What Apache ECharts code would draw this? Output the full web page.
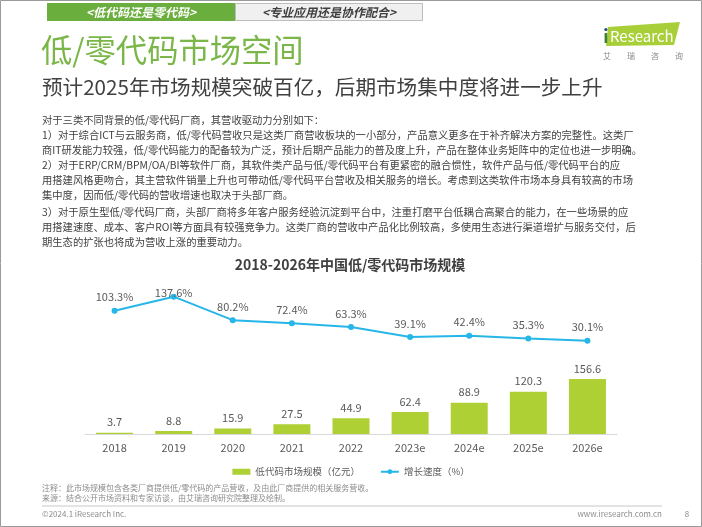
<!DOCTYPE html>
<html><head><meta charset="utf-8">
<script src="https://cdn.jsdelivr.net/npm/echarts@6/dist/echarts.min.js"></script>
<style>html,body{margin:0;padding:0;background:#fff}#c{width:702px;height:527px}</style>
</head><body><div id="c"></div>
<script>
const categories = ['2018','2019','2020','2021','2022','2023e','2024e','2025e','2026e'];
const marketSize = [3.7, 8.8, 15.9, 27.5, 44.9, 62.4, 88.9, 120.3, 156.6];
const growthRate = [103.3, 137.6, 80.2, 72.4, 63.3, 39.1, 42.4, 35.3, 30.1];
const seriesNames = ['低代码市场规模（亿元）', '增长速度（%）'];
const chartTitle = '2018-2026年中国低/零代码市场规模';
const tabs = ['<低代码还是零代码>', '<专业应用还是协作配合>'];
const pageTitle = '低/零代码市场空间';
const pageSubtitle = '预计2025年市场规模突破百亿，后期市场集中度将进一步上升';
const bodyLines = [
  '对于三类不同背景的低/零代码厂商，其营收驱动力分别如下：',
  '1）对于综合ICT与云服务商，低/零代码营收只是这类厂商营收板块的一小部分，产品意义更多在于补齐解决方案的完整性。这类厂',
  '商IT研发能力较强，低/零代码能力的配备较为广泛，预计后期产品能力的普及度上升，产品在整体业务矩阵中的定位也进一步明确。',
  '2）对于ERP/CRM/BPM/OA/BI等软件厂商，其软件类产品与低/零代码平台有更紧密的融合惯性，软件产品与低/零代码平台的应',
  '用搭建风格更吻合，其主营软件销量上升也可带动低/零代码平台营收及相关服务的增长。考虑到这类软件市场本身具有较高的市场',
  '集中度，因而低/零代码的营收增速也取决于头部厂商。',
  '3）对于原生型低/零代码厂商，头部厂商将多年客户服务经验沉淀到平台中，注重打磨平台低耦合高聚合的能力，在一些场景的应',
  '用搭建速度、成本、客户ROI等方面具有较强竞争力。这类厂商的营收中产品化比例较高，多使用生态进行渠道增扩与服务交付，后',
  '期生态的扩张也将成为营收上涨的重要动力。'
];
const footNotes = [
  '注释：此市场规模包含各类厂商提供低/零代码的产品营收，及由此厂商提供的相关服务营收。',
  '来源：结合公开市场资料和专家访谈，由艾瑞咨询研究院整理及绘制。'
];
const logoChars = ['艾','瑞','咨','询'];
const footerLeft = '©2024.1 iResearch Inc.';
const footerRight = 'www.iresearch.com.cn';
const pageNum = '8';

const FONT = '"Noto Sans CJK SC", "Noto Sans", sans-serif';
const bodyY = [120, 135.5, 150.5, 165.5, 180, 195, 212, 227, 242];

const graphics = [];
graphics.push({type:'rect', shape:{x:0.5,y:0.5,width:701,height:526}, style:{fill:null, stroke:'#9a9a9a', lineWidth:1}, silent:true});
graphics.push({type:'rect', shape:{x:47,y:3,width:188,height:18}, style:{fill:'#6aae3e'}});
graphics.push({type:'rect', shape:{x:235.5,y:3.5,width:187,height:17}, style:{fill:'#f0f0f0', stroke:'#bdbdbd', lineWidth:1}});
graphics.push({type:'text', x:141, y:12, style:{text:tabs[0], fill:'#fff', font:'italic bold 12px '+FONT, textAlign:'center', textVerticalAlign:'middle'}});
graphics.push({type:'text', x:329, y:12, style:{text:tabs[1], fill:'#404040', font:'italic bold 12px '+FONT, textAlign:'center', textVerticalAlign:'middle'}});
graphics.push({type:'text', x:41, y:50, style:{text:pageTitle, fill:'#7ab648', font:'31.3px '+FONT, textVerticalAlign:'middle'}});
graphics.push({type:'text', x:42, y:87, style:{text:pageSubtitle, fill:'#404040', font:'20.6px '+FONT, textVerticalAlign:'middle'}});
bodyLines.forEach((t,i)=>graphics.push({type:'text', x:42, y:bodyY[i], style:{text:t, fill:'#404040', font:'10.3px '+FONT, textVerticalAlign:'middle'}}));
graphics.push({type:'text', x:350, y:265, style:{text:chartTitle, fill:'#404040', font:'bold 14px '+FONT, textAlign:'center', textVerticalAlign:'middle'}});
// logo
graphics.push({type:'polygon', shape:{points:[[608,27],[680,22],[674,45],[606,46]]}, style:{fill:'#a8cf38'}});
graphics.push({type:'rect', shape:{x:604.6,y:33,width:2.6,height:10}, style:{fill:'#3f7f3a'}});
graphics.push({type:'circle', shape:{cx:605.9,cy:29.5,r:1.6}, style:{fill:'#1f4e79'}});
graphics.push({type:'text', x:610, y:36, style:{text:'Research', fill:'#fff', font:'15px '+FONT, textVerticalAlign:'middle'}});
logoChars.forEach((c,i)=>graphics.push({type:'text', x:607+i*24, y:56, style:{text:c, fill:'#8a8a8a', font:'8px '+FONT, textAlign:'center', textVerticalAlign:'middle'}}));
// footer
footNotes.forEach((t,i)=>graphics.push({type:'text', x:42, y:488+i*9.5, style:{text:t, fill:'#8c8c8c', font:'8px '+FONT, textVerticalAlign:'middle'}}));
graphics.push({type:'line', shape:{x1:42,y1:506,x2:662,y2:506}, style:{stroke:'#c8c8c8', lineWidth:1}});
graphics.push({type:'text', x:42, y:514, style:{text:footerLeft, fill:'#8c8c8c', font:'8px '+FONT, textVerticalAlign:'middle'}});
graphics.push({type:'text', x:662, y:514, style:{text:footerRight, fill:'#8c8c8c', font:'8px '+FONT, textAlign:'right', textVerticalAlign:'middle'}});
graphics.push({type:'text', x:687, y:514, style:{text:pageNum, fill:'#8c8c8c', font:'8px '+FONT, textAlign:'center', textVerticalAlign:'middle'}});

const chart = echarts.init(document.getElementById('c'), null, {renderer:'canvas'});
chart.setOption({
  animation:false,
  textStyle:{fontFamily:FONT},
  graphic:graphics,
  legend:{
    top:462, left:'center', itemGap:20, itemWidth:18, itemHeight:6,
    textStyle:{color:'#595959', fontSize:9.5, fontFamily:FONT},
    data:[{name:seriesNames[0], icon:'rect'}, {name:seriesNames[1]}]
  },
  grid:[
    {left:85, right:85, top:291.6, height:61.4},
    {left:85, right:85, top:377.8, height:56.2}
  ],
  xAxis:[
    {type:'category', gridIndex:0, data:categories, show:false},
    {type:'category', gridIndex:1, data:categories,
     axisLine:{lineStyle:{color:'#d9d9d9'}}, axisTick:{show:false},
     axisLabel:{color:'#595959', fontSize:11, margin:8, fontFamily:FONT}}
  ],
  yAxis:[
    {type:'value', gridIndex:0, min:0, max:150, show:false},
    {type:'value', gridIndex:1, min:0, max:160, show:false}
  ],
  series:[
    {name:seriesNames[0], type:'bar', xAxisIndex:1, yAxisIndex:1, data:marketSize, barWidth:37,
     itemStyle:{color:'#afd034'},
     label:{show:true, position:'top', distance:5, color:'#595959', fontSize:11, fontFamily:FONT}},
    {name:seriesNames[1], type:'line', xAxisIndex:0, yAxisIndex:0,
     data:growthRate.map((v,i)=> i===1 ? {value:v, label:{offset:[0,10]}} : v),
     symbol:'circle', symbolSize:6, lineStyle:{color:'#27b6e8', width:2}, itemStyle:{color:'#27b6e8'},
     label:{show:true, position:'top', distance:5, color:'#595959', fontSize:11, fontFamily:FONT, formatter:p=>p.value.toFixed(1)+'%'}}
  ]
});
</script></body></html>
